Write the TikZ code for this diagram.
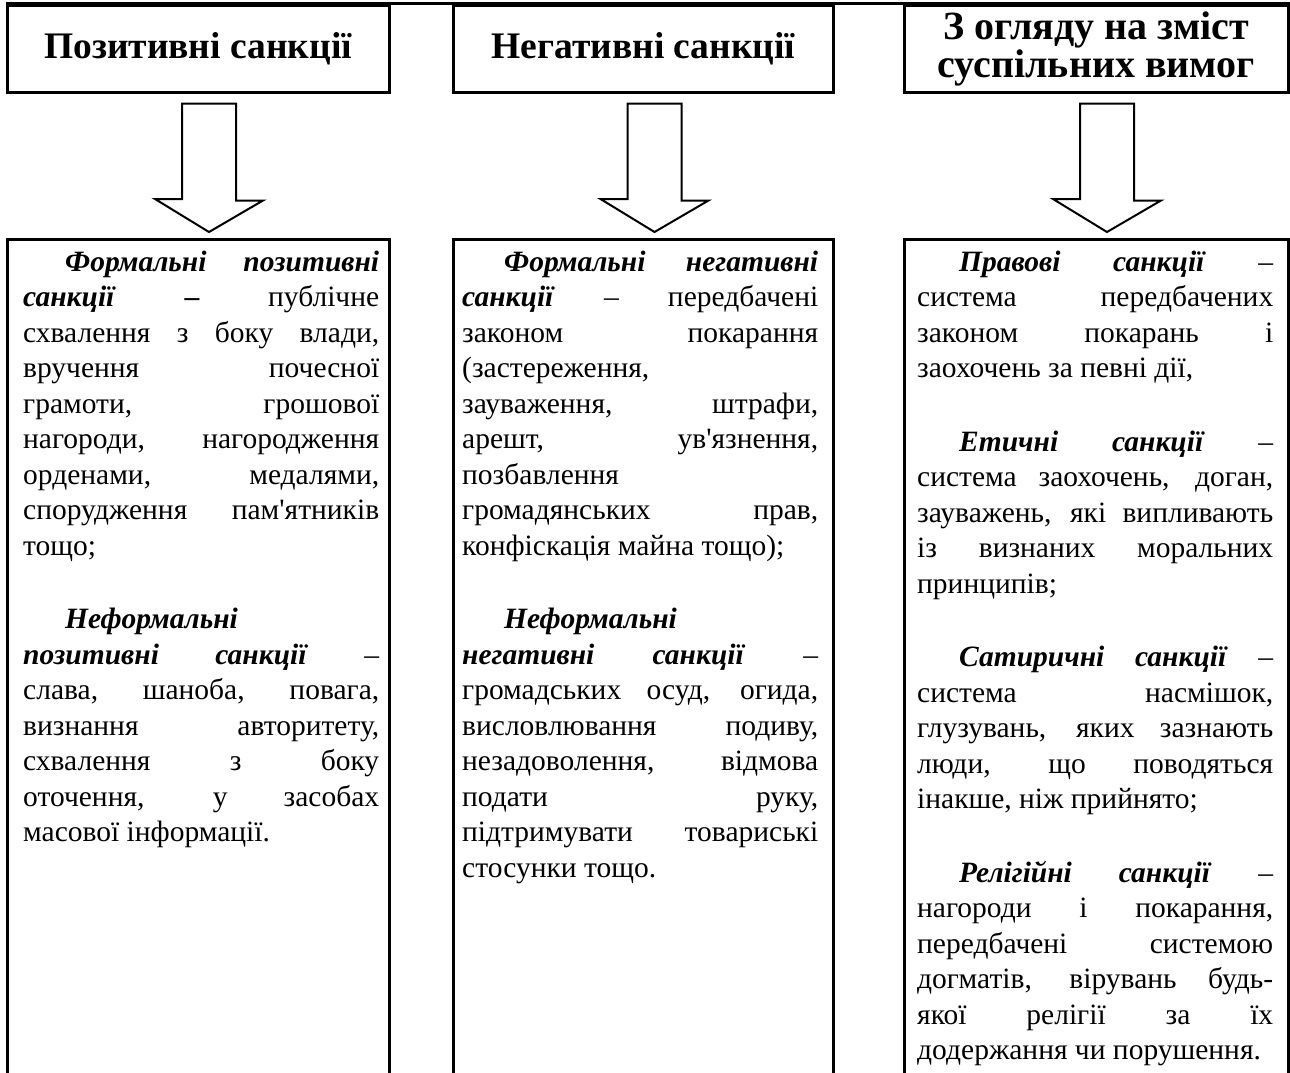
\documentclass[tikz,border=0pt]{standalone}
\usepackage{fontspec}
\setmainfont{Liberation Serif}
\usepackage{tikz}
\usetikzlibrary{positioning, calc}

\tikzset{
  hdrbox/.style={draw, line width=3pt, inner sep=0pt, align=center, minimum height=87pt,
    font=\fontsize{37.5}{38}\selectfont\bfseries},
  lowbox/.style={draw, line width=3pt, anchor=north, minimum height=900pt},
  bodytext/.style={anchor=base west, inner sep=0pt, text width=356pt, align=justify,
    font=\fontsize{29.5}{35.5}\selectfont,
    execute at begin node={\setlength{\parindent}{42pt}\hyphenpenalty=10000 \tolerance=10000 \hspace*{42pt}}},
  blockarrow/.style={draw, line width=2pt, fill=white}
}
\newcommand{\gap}{\par\vspace{38pt}}
\newcommand{\lead}[1]{\textbf{\textit{#1}}}

\begin{document}
\begin{tikzpicture}[x=1pt, y=-1pt]
    \path[use as bounding box, clip] (0,0) rectangle (1290,1072);

    % Header row
    \node[hdrbox, minimum width=382pt] (pos) at (198,48.5) {Позитивні санкції};
    \node[hdrbox, minimum width=380pt] (neg) at (643.5,48.5) {Негативні санкції};
    \node[hdrbox, minimum width=384pt, font=\fontsize{40}{38}\selectfont\bfseries] (rez) at (1096,48.5) {З огляду на зміст\\суспільних вимог};
    \draw[line width=3pt] (pos.north west) -- (rez.north east);

    % Lower boxes (open at the bottom)
    \node[lowbox, minimum width=382pt] (formpos) at (198,238) {};
    \node[lowbox, minimum width=380pt] (formneg) at (643.5,238) {};
    \node[lowbox, minimum width=384pt] (legal) at (1096,238) {};

    % Block arrows
    \foreach \h/\l in {pos/formpos, neg/formneg, rez/legal} {
        \draw[blockarrow] ($(\h.south)+(-16,10)$) -- ++(54,0) -- ++(0,97) -- ++(27,0)
            -- ($(\l.north)+(11,-6)$) -- ++(-54,-33) -- ++(27,0) -- cycle;
    }

    \node[bodytext] (postext) at (23,271) {%
\lead{Формальні позитивні}\linebreak
\lead{санкції} \textbf{–} публічне\linebreak
схвалення з боку влади,\linebreak
вручення почесної\linebreak
грамоти, грошової\linebreak
нагороди, нагородження\linebreak
орденами, медалями,\linebreak
спорудження пам\textquotesingle ятників\linebreak
тощо;\gap
\lead{Неформальні}\linebreak
\lead{позитивні санкції} –\linebreak
слава, шаноба, повага,\linebreak
визнання авторитету,\linebreak
схвалення з боку\linebreak
оточення, у засобах\linebreak
масової інформації.};

    \node[bodytext] (negtext) at (462,271) {%
\lead{Формальні негативні}\linebreak
\lead{санкції} – передбачені\linebreak
законом покарання\linebreak
(застереження,\linebreak
зауваження, штрафи,\linebreak
арешт, ув\textquotesingle язнення,\linebreak
позбавлення\linebreak
громадянських прав,\linebreak
конфіскація майна тощо);\gap
\lead{Неформальні}\linebreak
\lead{негативні санкції} –\linebreak
громадських осуд, огида,\linebreak
висловлювання подиву,\linebreak
незадоволення, відмова\linebreak
подати руку,\linebreak
підтримувати товариські\linebreak
стосунки тощо.};

    \node[bodytext] (rezttext) at (917,271) {%
\lead{Правові санкції} –\linebreak
система передбачених\linebreak
законом покарань і\linebreak
заохочень за певні дії,\gap
\lead{Етичні санкції} –\linebreak
система заохочень, доган,\linebreak
зауважень, які випливають\linebreak
із визнаних моральних\linebreak
принципів;\gap
\lead{Сатиричні санкції} –\linebreak
система насмішок,\linebreak
глузувань, яких зазнають\linebreak
люди, що поводяться\linebreak
інакше, ніж прийнято;\gap
\lead{Релігійні санкції} –\linebreak
нагороди і покарання,\linebreak
передбачені системою\linebreak
догматів, вірувань будь-\linebreak
якої релігії за їх\linebreak
додержання чи порушення.};
\end{tikzpicture}
\end{document}
